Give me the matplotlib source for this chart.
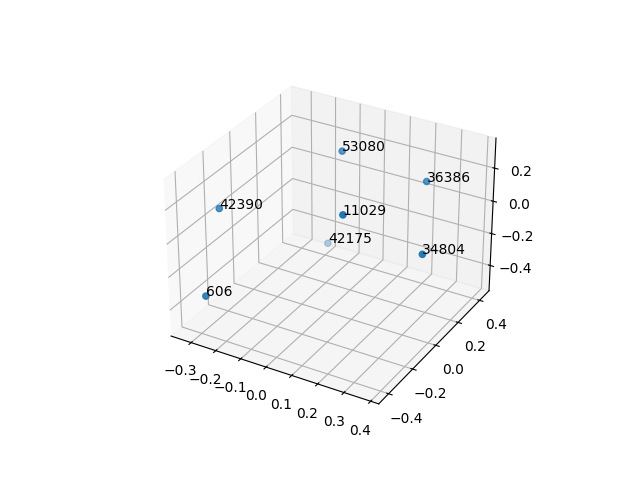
import matplotlib
matplotlib.use("Agg")
import matplotlib.pyplot as plt

labels = ["606", "42390", "53080", "36386", "11029", "42175", "34804"]
xs = [-0.252, -0.325, -0.029, 0.251, 0.109, -0.138, 0.358]
ys = [-0.445, -0.197, 0.190, 0.300, -0.092, 0.296, 0.028]
zs = [-0.275, 0.059, 0.292, 0.160, 0.143, -0.389, -0.058]

fig = plt.figure(figsize=(6.4, 4.8), dpi=100)
ax = fig.add_subplot(projection="3d")
ax.scatter(xs, ys, zs)
for x, y, z, t in zip(xs, ys, zs, labels):
    ax.text(x, y, z, t)
ax.set_xlim(-0.382, 0.43)
ax.set_ylim(-0.48, 0.49)
ax.set_zlim(-0.561, 0.379)
fig.savefig("out.png", dpi=100)
